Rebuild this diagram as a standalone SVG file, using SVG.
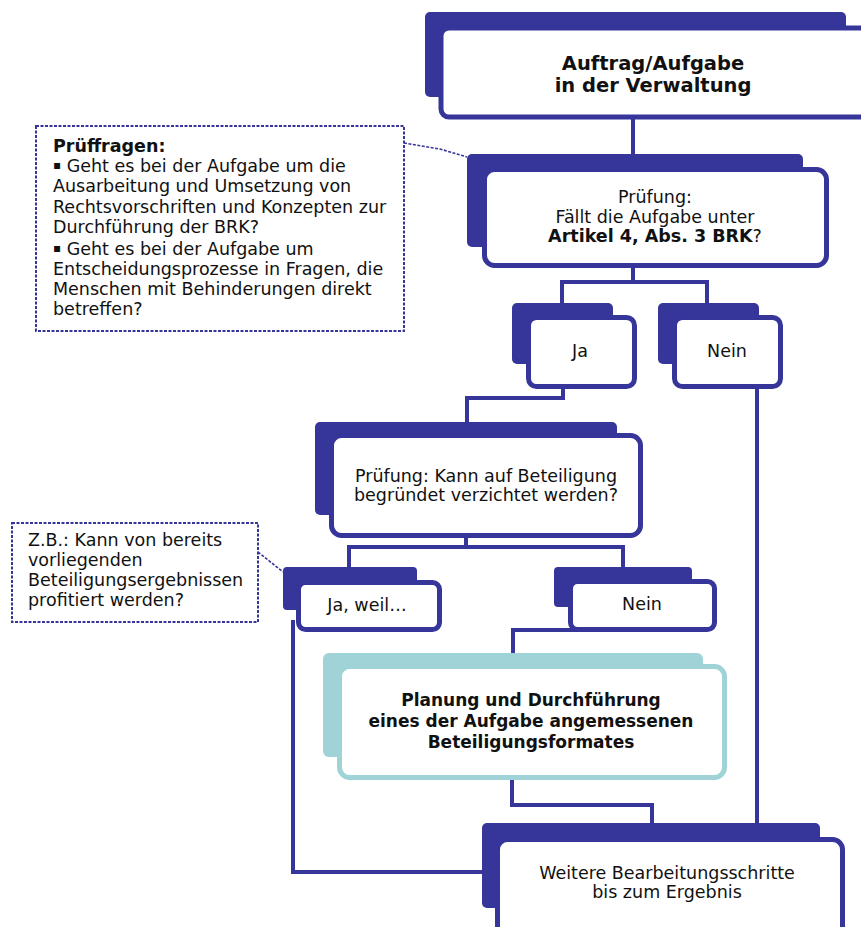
<svg xmlns="http://www.w3.org/2000/svg" width="861" height="927" viewBox="0 0 861 927">
<style>
.back{fill:#35359a}
.front{fill:#fff;stroke:#35359a;stroke-width:5}
.tback{fill:#a0d3d8}
.tfront{fill:#fff;stroke:#a0d3d8;stroke-width:5}
.conn{fill:none;stroke:#35359a;stroke-width:4}
.dash{fill:none;stroke:#35359a;stroke-width:1.6;stroke-dasharray:3 1.5}
.note{fill:#fff;stroke:#35359a;stroke-width:2;stroke-dasharray:3 1.5}
text{font-family:"DejaVu Sans",Verdana,sans-serif;fill:#111;font-size:17.5px}
.c{text-anchor:middle}
.b{font-weight:bold}
.big{font-size:19.5px}
.pl{font-size:17px}
.bul{font-size:12px}
</style>
<rect width="861" height="927" fill="#fff"/>
<g id="connectors">
<path class="conn" d="M633,118 V156"/>
<path class="conn" d="M633,266 V282 M562,305 V282 H707 V305"/>
<path class="conn" d="M563,387 V398 H467 V424"/>
<path class="conn" d="M757,387 V825"/>
<path class="conn" d="M466,536 V547 M349,569 V547 H623 V569"/>
<path class="conn" d="M293,620 V872 H484"/>
<path class="conn" d="M625,630 H513 V656"/>
<path class="conn" d="M512,778 V805 H652 V825"/>
<path class="dash" d="M404,143 L440,149 L467,157"/>
<path class="dash" d="M258,552 L283,572"/>
</g>
<g id="n-auftrag">
<rect class="back" x="425" y="12" width="421" height="85" rx="5"/>
<rect class="front" x="441" y="28" width="430" height="89" rx="8" stroke-width="6"/>
<text class="c b big" x="653" y="70">Auftrag/Aufgabe</text>
<text class="c b big" x="653" y="92">in der Verwaltung</text>
</g>
<g id="n-pruef1">
<rect class="back" x="467" y="154" width="336" height="93" rx="5"/>
<rect class="front" x="484.5" y="169.5" width="342" height="96" rx="10"/>
<text class="c" x="655" y="203">Prüfung:</text>
<text class="c" x="655" y="223">Fällt die Aufgabe unter</text>
<text class="c" x="655" y="242"><tspan class="b">Artikel 4, Abs. 3 BRK</tspan>?</text>
</g>
<g id="n-prueffragen">
<rect class="note" x="36" y="126" width="368" height="205"/>
<text x="53" y="152" class="b">Prüffragen:</text>
<text x="53" y="172"><tspan class="bul" dy="-3">▪</tspan><tspan dy="3"> Geht es bei der Aufgabe um die</tspan></text>
<text x="53" y="192">Ausarbeitung und Umsetzung von</text>
<text x="53" y="213">Rechtsvorschriften und Konzepten zur</text>
<text x="53" y="233">Durchführung der BRK?</text>
<text x="53" y="255"><tspan class="bul" dy="-3">▪</tspan><tspan dy="3"> Geht es bei der Aufgabe um</tspan></text>
<text x="53" y="275">Entscheidungsprozesse in Fragen, die</text>
<text x="53" y="295">Menschen mit Behinderungen direkt</text>
<text x="53" y="315">betreffen?</text>
</g>
<g id="n-ja1">
<rect class="back" x="512" y="303" width="101" height="61" rx="5"/>
<rect class="front" x="528.5" y="317.5" width="106" height="69" rx="8"/>
<text class="c" x="580" y="357">Ja</text>
</g>
<g id="n-nein1">
<rect class="back" x="658" y="303" width="101" height="61" rx="5"/>
<rect class="front" x="674.5" y="317.5" width="106" height="69" rx="8"/>
<text class="c" x="727" y="357">Nein</text>
</g>
<g id="n-pruef2">
<rect class="back" x="315" y="422" width="302" height="93" rx="5"/>
<rect class="front" x="331.5" y="435.5" width="309" height="100" rx="10"/>
<text class="c" x="486" y="482">Prüfung: Kann auf Beteiligung</text>
<text class="c" x="486" y="501">begründet verzichtet werden?</text>
</g>
<g id="n-zb">
<rect class="note" x="12" y="523" width="246" height="99"/>
<text x="28" y="546">Z.B.: Kann von bereits</text>
<text x="28" y="566">vorliegenden</text>
<text x="28" y="586">Beteiligungsergebnissen</text>
<text x="28" y="606">profitiert werden?</text>
</g>
<g id="n-jaweil">
<rect class="back" x="283" y="567" width="134" height="43" rx="4"/>
<rect class="front" x="298.5" y="582.5" width="141" height="47" rx="7"/>
<text class="c" x="367" y="611">Ja, weil…</text>
</g>
<g id="n-nein2">
<rect class="back" x="554" y="567" width="138" height="40" rx="4"/>
<rect class="front" x="570.5" y="581.5" width="144" height="48" rx="7"/>
<text class="c" x="642" y="610">Nein</text>
</g>
<g id="n-planung">
<rect class="tback" x="323" y="653" width="380" height="104" rx="6"/>
<rect class="tfront" x="339.5" y="666.5" width="385" height="111" rx="10"/>
<text class="c b pl" x="531" y="706">Planung und Durchführung</text>
<text class="c b pl" x="531" y="727">eines der Aufgabe angemessenen</text>
<text class="c b pl" x="531" y="748">Beteiligungsformates</text>
</g>
<g id="n-weitere">
<rect class="back" x="482" y="823" width="338" height="85" rx="5"/>
<rect class="front" x="497.5" y="839.5" width="345" height="100" rx="10"/>
<text class="c" x="667" y="879">Weitere Bearbeitungsschritte</text>
<text class="c" x="667" y="898">bis zum Ergebnis</text>
</g>
</svg>
